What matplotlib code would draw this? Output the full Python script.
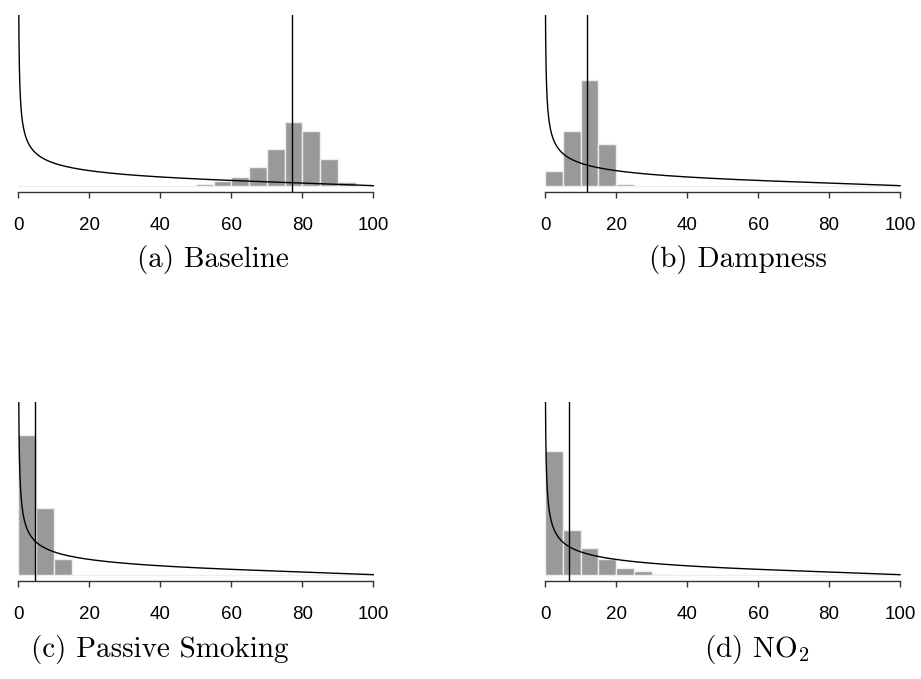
import math
import numpy as np
import matplotlib
matplotlib.use("Agg")
import matplotlib.pyplot as plt

plt.rcParams['font.family'] = ['Liberation Sans', 'DejaVu Sans']
plt.rcParams['mathtext.fontset'] = 'cm'

# histogram breaks, 20 bins of width 5 over 0..100
bin_edges = np.arange(0, 101, 5)

# share of posterior draws falling in each bin
baseline_share = [0, 0, 0, 0, 0, 0, 0, 0, 0, 0,
                  0.006, 0.021, 0.042, 0.085, 0.169, 0.290, 0.248, 0.122, 0.017, 0]
dampness_share = [0.067, 0.251, 0.484, 0.192, 0.006, 0, 0, 0, 0, 0,
                  0, 0, 0, 0, 0, 0, 0, 0, 0, 0]
smoking_share = [0.630, 0.300, 0.070, 0, 0, 0, 0, 0, 0, 0,
                 0, 0, 0, 0, 0, 0, 0, 0, 0, 0]
no2_share = [0.560, 0.202, 0.119, 0.071, 0.028, 0.016, 0.004, 0, 0, 0,
             0, 0, 0, 0, 0, 0, 0, 0, 0, 0]

# posterior means
baseline_mean = 77.2
dampness_mean = 11.7
smoking_mean = 4.6
no2_mean = 6.8

# beta prior on the percentage scale
prior_a = 0.55
prior_b = 1.8

captions = ['(a) Baseline', '(b) Dampness', '(c) Passive Smoking', r'(d) NO$_2$']
shares = [baseline_share, dampness_share, smoking_share, no2_share]
means = [baseline_mean, dampness_mean, smoking_mean, no2_mean]

W, H = 921, 679
fig = plt.figure(figsize=(W / 100, H / 100), dpi=100)

# plot regions in pixels: left, right, top, bottom
regions = [(4.1, 387.5, 15, 192.3), (530.8, 914.2, 15, 192.3),
           (4.1, 387.5, 402.3, 581.3), (530.8, 914.2, 402.3, 581.3)]
caption_pos = [(213, 259), (738, 259), (160, 649), (757, 649)]


def beta_pdf(x, a, b):
    norm = math.gamma(a) * math.gamma(b) / math.gamma(a + b)
    u = x / 100.0
    return u ** (a - 1) * (1 - u) ** (b - 1) / norm / 100.0


xs = np.concatenate([np.geomspace(1e-5, 1, 400), np.linspace(1, 100, 600)[1:]])
prior = beta_pdf(xs, prior_a, prior_b)

for i in range(4):
    l, r, t, b = regions[i]
    ax = fig.add_axes([l / W, 1 - b / H, (r - l) / W, (b - t) / H])

    dens = np.array(shares[i]) / 5.0
    ax.bar(bin_edges[:-1], dens, width=5, align='edge', color='#999999',
           edgecolor='#eeeeee', linewidth=1.0, zorder=1)
    ax.plot(xs, prior, color='black', lw=1.0, zorder=2)
    ax.axvline(means[i], color='black', lw=1.0, zorder=3)

    ax.set_xlim(-4, 104)
    ax.set_ylim(-0.006, 0.156)
    for side in ['left', 'top', 'right']:
        ax.spines[side].set_visible(False)
    ax.spines['bottom'].set_bounds(0, 100)
    ax.spines['bottom'].set_color('#333333')
    ax.spines['bottom'].set_linewidth(1.0)
    ax.set_xticks(range(0, 101, 20))
    ax.set_yticks([])
    ax.tick_params(axis='x', length=4, width=1.0, color='#333333',
                   labelsize=13.5, pad=14)
    ax.patch.set_alpha(0)

    cx, cy = caption_pos[i]
    fig.text(cx / W, 1 - cy / H, captions[i], ha='center', va='center',
             fontsize=21, family='cmr10')

fig.savefig('out.png', dpi=100)
